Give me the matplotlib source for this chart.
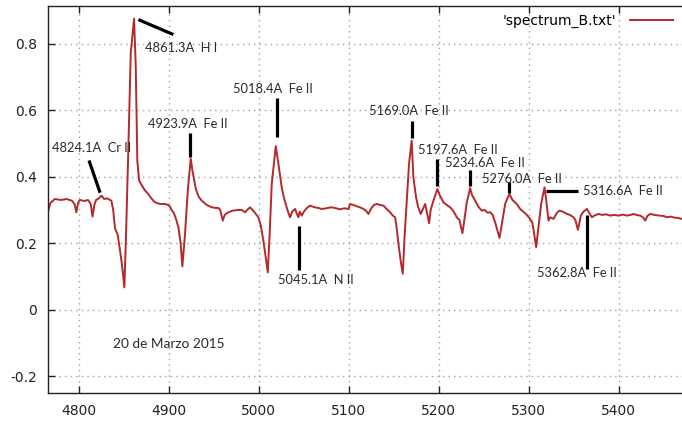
import matplotlib
matplotlib.use("Agg")
import matplotlib.pyplot as plt
from matplotlib.ticker import FuncFormatter

plt.rcParams['axes.unicode_minus'] = False

# spectrum (wavelength in A, flux)
wave = [4765.5, 4768, 4773, 4780, 4786, 4792, 4795, 4797, 4799, 4801, 4806, 4810, 4813, 4815, 4817,
        4819, 4822, 4825, 4828, 4831, 4836, 4838, 4840, 4843, 4845.6, 4848, 4850.4, 4852, 4854.8,
        4857.5, 4861.2, 4863.1, 4864.8, 4866.8, 4869.6, 4873, 4877, 4881, 4884.5, 4890, 4895.7,
        4899, 4901.2, 4903, 4904.9, 4907, 4910.5, 4913, 4914.9, 4917.9, 4921, 4924.2, 4926.1,
        4929.9, 4933, 4936.5, 4942, 4947.6, 4952, 4955, 4957, 4959.8, 4962, 4966, 4971, 4977.2,
        4981, 4984.6, 4987, 4990.2, 4993, 4996, 4999.4, 5002, 5005, 5008, 5009.9, 5012, 5014.3,
        5018.8, 5021.7, 5025.4, 5028, 5030.9, 5033, 5034.7, 5037, 5040.3, 5042, 5043.9, 5045.5,
        5047.7, 5050, 5053, 5057, 5062, 5066, 5070, 5075, 5080, 5084.8, 5090, 5095, 5099.6,
        5101.4, 5105, 5110, 5114, 5116.2, 5119, 5121.8, 5125, 5128, 5131.1, 5135, 5138.5, 5142,
        5145.9, 5149, 5151.5, 5153, 5155.2, 5157.5, 5160, 5162, 5164.5, 5167, 5169.9, 5171.8,
        5174.8, 5177, 5180, 5182, 5184.9, 5187, 5189.3, 5191, 5194.1, 5198.5, 5201, 5205.2, 5209,
        5212.6, 5216, 5220.1, 5223, 5226.3, 5228, 5231, 5234.9, 5237, 5240.5, 5244, 5247.9, 5251,
        5254, 5257.2, 5260, 5263, 5265.5, 5267.5, 5270, 5274, 5278.6, 5282, 5286.8, 5290.5, 5294,
        5298, 5301.6, 5304, 5306, 5308.3, 5311, 5314, 5317.6, 5319.5, 5322, 5324, 5327.6, 5331,
        5334.2, 5338, 5342.5, 5346, 5349.8, 5352, 5354.7, 5356.5, 5358, 5361, 5364.7, 5367,
        5370.3, 5373, 5377.6, 5382, 5386, 5390.6, 5395, 5400, 5405, 5409.2, 5413, 5416.6, 5420,
        5424, 5427, 5429.6, 5432, 5435.1, 5440, 5445, 5450, 5453.7, 5458, 5462, 5466, 5470.4]
flux = [0.295, 0.320, 0.333, 0.330, 0.333, 0.328, 0.318, 0.293, 0.322, 0.330, 0.327, 0.330, 0.318,
        0.280, 0.315, 0.330, 0.335, 0.343, 0.333, 0.335, 0.328, 0.300, 0.245, 0.225, 0.178, 0.130,
        0.067, 0.200, 0.479, 0.771, 0.876, 0.730, 0.449, 0.389, 0.375, 0.360, 0.348, 0.333, 0.323,
        0.318, 0.318, 0.315, 0.310, 0.300, 0.293, 0.280, 0.248, 0.200, 0.130, 0.229, 0.360, 0.454,
        0.419, 0.363, 0.340, 0.328, 0.315, 0.308, 0.306, 0.306, 0.300, 0.268, 0.285, 0.293, 0.298,
        0.300, 0.300, 0.293, 0.300, 0.308, 0.300, 0.290, 0.278, 0.255, 0.208, 0.150, 0.112, 0.230,
        0.379, 0.492, 0.439, 0.368, 0.335, 0.308, 0.290, 0.278, 0.295, 0.303, 0.290, 0.278, 0.295,
        0.283, 0.295, 0.305, 0.313, 0.308, 0.306, 0.303, 0.305, 0.308, 0.306, 0.302, 0.305, 0.303,
        0.318, 0.315, 0.310, 0.306, 0.303, 0.298, 0.288, 0.305, 0.315, 0.318, 0.315, 0.313, 0.303,
        0.293, 0.283, 0.278, 0.250, 0.198, 0.150, 0.108, 0.220, 0.328, 0.440, 0.509, 0.398, 0.338,
        0.310, 0.288, 0.300, 0.318, 0.290, 0.260, 0.300, 0.328, 0.363, 0.345, 0.323, 0.315, 0.308,
        0.298, 0.278, 0.270, 0.230, 0.260, 0.320, 0.366, 0.345, 0.328, 0.310, 0.298, 0.300, 0.292,
        0.293, 0.285, 0.260, 0.235, 0.216, 0.255, 0.320, 0.348, 0.330, 0.318, 0.303, 0.295, 0.285,
        0.273, 0.262, 0.230, 0.188, 0.250, 0.320, 0.368, 0.330, 0.268, 0.278, 0.273, 0.290, 0.298,
        0.295, 0.288, 0.285, 0.278, 0.270, 0.240, 0.262, 0.283, 0.295, 0.303, 0.293, 0.278, 0.283,
        0.288, 0.285, 0.287, 0.283, 0.285, 0.283, 0.286, 0.283, 0.285, 0.288, 0.285, 0.283, 0.278,
        0.268, 0.282, 0.288, 0.285, 0.283, 0.282, 0.278, 0.280, 0.277, 0.276, 0.273]

# line labels: text position, and marker segment (x0, y0, x1, y1)
labels = ['4824.1A  Cr II', '4861.3A  H I', '4923.9A  Fe II', '5018.4A  Fe II', '5045.1A  N II',
          '5169.0A  Fe II', '5197.6A  Fe II', '5234.6A  Fe II', '5276.0A  Fe II', '5316.6A  Fe II',
          '5362.8A  Fe II']
label_x = [4770, 4873.4, 4876.4, 4971.5, 5021.6, 5122.9, 5177.4, 5207.1, 5247.9, 5360.2, 5309.8]
label_y = [0.488, 0.789, 0.560, 0.665, 0.089, 0.599, 0.482, 0.442, 0.392, 0.356, 0.109]
seg_x0 = [4811.1, 4866.0, 4923.5, 5019.9, 5044.4, 5170.0, 5198.2, 5234.9, 5278.3, 5319.4, 5364.7]
seg_y0 = [0.449, 0.873, 0.531, 0.638, 0.253, 0.569, 0.452, 0.419, 0.383, 0.356, 0.286]
seg_x1 = [4823.4, 4904.9, 4923.5, 5019.9, 5044.4, 5170.0, 5198.2, 5234.9, 5278.3, 5354.7, 5364.7]
seg_y1 = [0.352, 0.828, 0.459, 0.521, 0.120, 0.518, 0.373, 0.373, 0.350, 0.356, 0.123]

xticks = [4800, 4900, 5000, 5100, 5200, 5300, 5400]
yticks = [-0.2, 0, 0.2, 0.4, 0.6, 0.8]

fig = plt.figure(figsize=(6.82, 4.21), dpi=100)
ax = fig.add_axes([48 / 682, 28 / 421, 634 / 682, 387 / 421])

ax.plot(wave, flux, color='#b3292c', lw=1.4, label="'spectrum_B.txt'")

for i in range(len(labels)):
    ax.plot([seg_x0[i], seg_x1[i]], [seg_y0[i], seg_y1[i]], color='black', lw=2.3,
            solid_capstyle='butt')
    ax.text(label_x[i], label_y[i], labels[i], ha='left', va='center', fontsize=9.3,
            family='Lato', color='#2a2a2a')

ax.text(4837.8, -0.103, '20 de Marzo 2015', ha='left', va='center', fontsize=9.8,
        family='Lato', color='#2a2a2a')

ax.set_xlim(4765.5, 5470.5)
ax.set_ylim(-0.251, 0.914)
ax.set_xticks(xticks)
ax.set_yticks(yticks)
ax.yaxis.set_major_formatter(FuncFormatter(lambda v, p: '%g' % round(v, 2)))
ax.grid(True, linestyle=(0, (1, 3)), color='#a0a0a0', lw=1)
ax.tick_params(direction='in', length=5, width=1, top=True, right=False,
               labelsize=10, pad=8, colors='#222222')
ax.spines['right'].set_visible(False)
for s in ['left', 'bottom', 'top']:
    ax.spines[s].set_color('#222222')
    ax.spines[s].set_linewidth(1)

ax.legend(loc='upper right', bbox_to_anchor=(673 / 682, 1 - 14 / 421),
          bbox_transform=fig.transFigure, frameon=False, markerfirst=False,
          handlelength=3.1, handletextpad=1.0, borderpad=0, borderaxespad=0, fontsize=10)

fig.savefig('out.png', dpi=100)
